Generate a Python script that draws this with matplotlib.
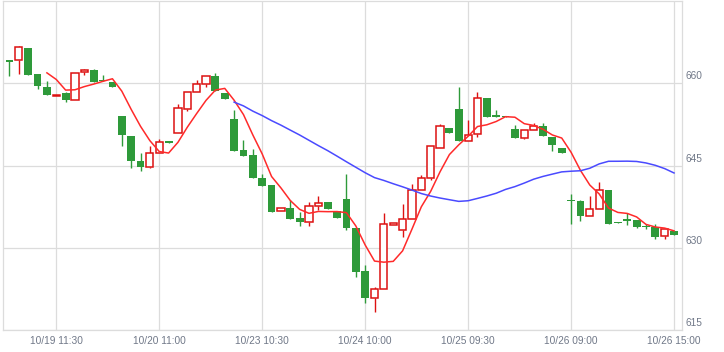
import matplotlib
matplotlib.use("Agg")
import matplotlib.pyplot as plt
import matplotlib.transforms as mtransforms
import numpy as np

# ---- data ----
opens = [664.3, 664.3, 666.5, 661.8, 659.4, 657.75, 658.3, 657.0, 662.1, 662.5,
         660.6, 660.2, 654.0, 650.5, 645.8, 644.7, 647.4, 649.5, 651.0, 655.4,
         658.5, 659.9, 661.4, 658.2, 653.6, 647.8, 646.9, 642.8, 641.4, 636.7,
         637.2, 635.4, 634.8, 637.7, 638.4, 636.7, 639.0, 633.6, 625.7, 620.8,
         622.4, 634.25, 633.2, 635.2, 640.6, 642.8, 648.3, 651.8, 655.4, 649.5,
         650.8, 657.4, 654.2, 654.0, 651.7, 650.1, 651.5, 652.3, 650.3, 648.3,
         638.6, 638.5, 635.9, 637.0, 640.5, 634.7, 635.2, 635.0, 633.9, 633.8,
         632.1, 633.1]
highs = [664.3, 666.8, 666.5, 661.8, 660.4, 657.95, 658.5, 661.9, 662.7, 662.7,
         661.6, 660.2, 654.0, 650.5, 647.3, 648.5, 649.8, 649.5, 656.2, 658.5,
         660.6, 661.4, 661.9, 658.2, 655.1, 649.6, 648.1, 643.5, 641.4, 637.3,
         638.8, 636.5, 638.4, 639.4, 638.4, 636.7, 643.5, 633.6, 626.8, 622.9,
         636.3, 634.45, 638.0, 641.7, 643.3, 648.5, 652.6, 651.8, 659.3, 653.3,
         658.5, 657.4, 655.2, 654.1, 652.4, 651.5, 652.8, 652.8, 650.3, 648.3,
         639.9, 638.8, 639.4, 642.1, 640.5, 634.7, 636.4, 635.0, 634.4, 634.4,
         633.5, 633.1]
lows = [661.3, 661.8, 661.6, 659.0, 657.9, 657.75, 656.7, 657.0, 661.6, 660.2,
        660.4, 659.3, 648.5, 644.5, 644.0, 644.6, 647.4, 649.2, 651.0, 654.9,
        658.5, 659.4, 658.6, 657.1, 647.7, 646.8, 642.8, 641.3, 636.5, 636.7,
        635.3, 634.0, 634.0, 636.9, 637.1, 635.4, 633.3, 624.7, 620.0, 618.3,
        622.4, 634.25, 632.0, 635.2, 640.6, 642.3, 648.3, 650.9, 649.5, 649.5,
        650.3, 653.9, 653.9, 653.9, 650.1, 649.9, 651.5, 650.4, 647.7, 647.3,
        634.4, 634.9, 635.9, 637.0, 634.4, 634.5, 634.1, 633.6, 633.4, 631.6,
        631.7, 632.4]
closes = [664.0, 666.7, 661.6, 659.5, 657.9, 657.95, 657.0, 661.9, 662.4, 660.2,
          660.5, 659.3, 650.6, 645.8, 644.7, 647.4, 649.4, 649.2, 655.6, 658.5,
          659.9, 661.4, 658.6, 657.1, 647.7, 646.8, 642.8, 641.3, 636.5, 637.3,
          635.3, 634.7, 637.7, 638.2, 637.1, 635.4, 633.7, 625.6, 620.8, 622.4,
          634.4, 634.45, 635.2, 640.6, 642.8, 648.5, 652.3, 650.9, 649.5, 650.6,
          657.4, 653.9, 653.9, 653.9, 650.1, 651.5, 652.3, 650.4, 648.7, 647.3,
          638.5, 635.8, 637.0, 640.6, 634.4, 634.5, 634.9, 633.8, 633.8, 632.0,
          633.5, 632.4]
tick_positions = [5, 16, 27, 38, 49, 60, 71]
tick_labels = ["10/19 11:30", "10/20 11:00", "10/23 10:30", "10/24 10:00",
               "10/25 09:30", "10/26 09:00", "10/26 15:00"]
y_ticks = [615, 630, 645, 660]
ma_short = 5
ma_long = 25

# ---- styling ----
RED = "#dd1111"
GREEN = "#2e9a3a"
GRID = "#dcdcdc"
LABEL = "#707888"

fig = plt.figure(figsize=(7.24, 3.52), dpi=100)
W, H = 724, 352
left, right, top, bottom = 3.3, 682, 1.3, 330
ax = fig.add_axes([left / W, 1 - bottom / H, (right - left) / W, (bottom - top) / H])

n = len(closes)
x = np.arange(n)
o = np.array(opens); c = np.array(closes); h = np.array(highs); l = np.array(lows)
bw = 0.84

for i in range(n):
    up = c[i] >= o[i]
    top_b = max(o[i], c[i]); bot_b = min(o[i], c[i])
    if up:
        body_h = max(top_b - bot_b, 0.18)
        ax.vlines(i, top_b, h[i], color=RED, lw=1.0, zorder=2)
        ax.vlines(i, l[i], bot_b, color=RED, lw=1.0, zorder=2)
        ax.bar(i, body_h, bottom=bot_b, width=bw * 0.92, facecolor="white",
               edgecolor=RED, linewidth=1.1, zorder=3)
    else:
        body_h = max(top_b - bot_b, 0.2)
        ax.vlines(i, l[i], h[i], color=GREEN, lw=1.0, zorder=2)
        ax.bar(i, body_h, bottom=bot_b, width=bw, facecolor=GREEN,
               edgecolor="none", linewidth=0, zorder=3)

def moving_average(vals, k):
    vals = np.asarray(vals)
    out = np.full(len(vals), np.nan)
    for j in range(k - 1, len(vals)):
        out[j] = vals[j - k + 1:j + 1].mean()
    return out

ax.plot(x, moving_average(c, ma_short), color="#ff2a2a", lw=1.1, zorder=4)
ax.plot(x, moving_average(c, ma_long), color="#4a4aff", lw=1.1, zorder=4)

ax.set_xlim(-0.66, 71.85)
ax.set_ylim(615, 675)

for v in y_ticks:
    ax.axhline(v, color=GRID, lw=0.9, zorder=0)
for t in tick_positions:
    ax.axvline(t, color=GRID, lw=0.9, zorder=0)

for s in ax.spines.values():
    s.set_color(GRID)
    s.set_linewidth(0.9)

ax.set_xticks(tick_positions)
ax.set_xticklabels(tick_labels, fontsize=7.3, color=LABEL, family="Liberation Sans")
ax.tick_params(axis="x", length=0, pad=4.5)
ax.set_yticks([])

trans = mtransforms.blended_transform_factory(ax.transAxes, ax.transData)
trans = mtransforms.offset_copy(trans, fig=fig, x=3.7, y=7, units="dots")
for v in y_ticks:
    ax.text(1.0, v, str(v), transform=trans, ha="left", va="center",
            fontsize=7.3, color=LABEL, family="Liberation Sans")

fig.savefig("out.png", dpi=100)
